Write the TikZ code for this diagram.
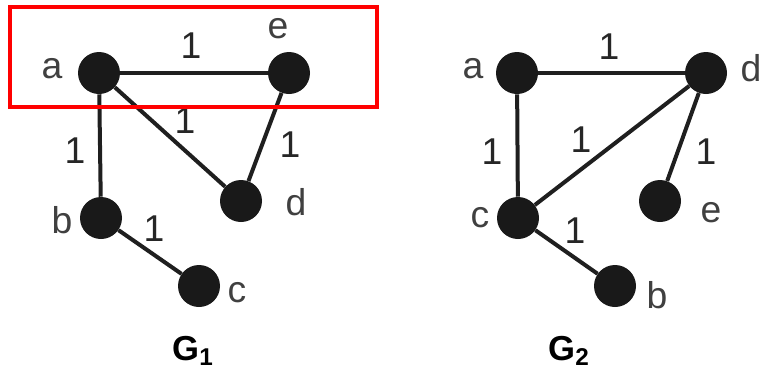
\documentclass[tikz,border=0pt]{standalone}
\usepackage{fontspec}
\setmainfont{Liberation Sans}
\begin{document}
\begin{tikzpicture}[x=0.75pt,y=-0.75pt,
  vtx/.style={circle,fill=black!90,inner sep=0pt,minimum size=31.5pt},
  edge/.style={line width=3pt,draw=black!88},
  vlabel/.style={anchor=base,text=black!75,font=\fontsize{28}{30}\selectfont},
  wlabel/.style={text=black!85,font=\fontsize{28}{30}\selectfont},
  gname/.style={anchor=base,font=\fontsize{26}{28}\selectfont\bfseries}]
\useasboundingbox (0,0) rectangle (769,379);

% ---- G1 ----
\node[vtx] (a1) at (99,73) {};
\node[vtx] (e1) at (289,73) {};
\node[vtx] (d1) at (241,201) {};
\node[vtx] (b1) at (101,218) {};
\node[vtx] (c1) at (199,286) {};
\draw[edge] (a1) -- (e1);
\draw[edge] (a1) -- (b1);
\draw[edge] (a1) -- (d1);
\draw[edge] (e1) -- (d1);
\draw[edge] (b1) -- (c1);
\node[vlabel] (la1) at (52,78) {a};
\node[vlabel] (le1) at (278,38) {e};
\node[vlabel] (ld1) at (296,215) {d};
\node[vlabel] (lb1) at (62,233) {b};
\node[vlabel] (lc1) at (237,302) {c};
\node[wlabel] (wae1) at (191,46) {1};
\node[wlabel] (wad1) at (185,121) {1};
\node[wlabel] (wed1) at (290,145) {1};
\node[wlabel] (wab1) at (75,151) {1};
\node[wlabel] (wbc1) at (154,229) {1};
\node[gname] (g1) at (193,360) {G\textsubscript{1}};

% highlight box around the top edge of G1
\draw[red,line width=3pt] (10,7) rectangle (377,107);

% ---- G2 ----
\node[vtx] (a2) at (517,73) {};
\node[vtx] (d2) at (706,73) {};
\node[vtx] (c2) at (518,218) {};
\node[vtx] (e2) at (660,201) {};
\node[vtx] (b2) at (615,286) {};
\draw[edge] (a2) -- (d2);
\draw[edge] (a2) -- (c2);
\draw[edge] (c2) -- (d2);
\draw[edge] (d2) -- (e2);
\draw[edge] (c2) -- (b2);
\node[vlabel] (la2) at (473,78) {a};
\node[vlabel] (ld2) at (751,81) {d};
\node[vlabel] (lc2) at (480,227) {c};
\node[vlabel] (le2) at (711,222) {e};
\node[vlabel] (lb2) at (657,308) {b};
\node[wlabel] (wad2) at (609,47) {1};
\node[wlabel] (wac2) at (492,152) {1};
\node[wlabel] (wcd2) at (581,140) {1};
\node[wlabel] (wde2) at (706,152) {1};
\node[wlabel] (wcb2) at (575,231) {1};
\node[gname] (g2) at (569,360) {G\textsubscript{2}};
\end{tikzpicture}
\end{document}
